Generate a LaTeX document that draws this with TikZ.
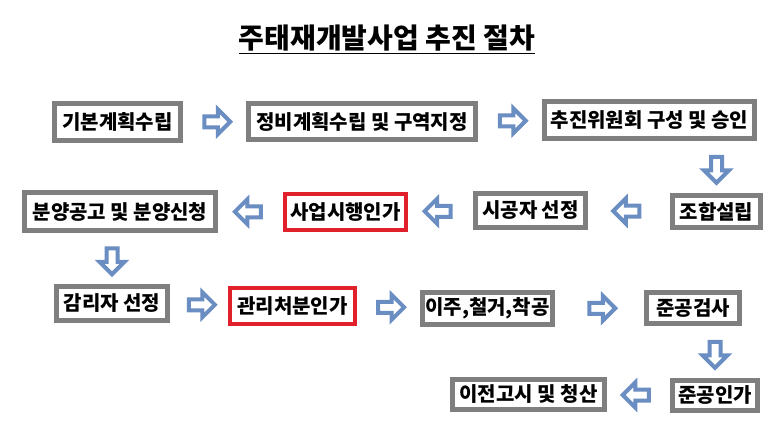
\documentclass[tikz,border=0pt]{standalone}
\usepackage{fontspec}
\newfontfamily\krfont{Noto Sans CJK KR}
\usetikzlibrary{shapes.arrows}
\definecolor{boxgray}{HTML}{7F7F7F}
\definecolor{boxred}{HTML}{E0202A}
\definecolor{arrowblue}{HTML}{6A8DC2}
\tikzset{
  every picture/.style={line join=miter},
  stepbox/.style={draw=boxgray, line width=5pt, fill=white, inner sep=0pt, font=\krfont\bfseries\fontsize{20}{22}\selectfont},
  keybox/.style={stepbox, draw=boxred, line width=3.5pt},
  flow/.style={single arrow, draw=arrowblue, fill=white, line width=4pt, minimum height=26pt, minimum width=21pt, inner sep=3.5pt, single arrow head extend=7pt},
  flowleft/.style={flow, shape border rotate=180},
  flowdown/.style={flow, shape border rotate=270},
}

\begin{document}
\begin{tikzpicture}[x=1pt,y=-1pt]
\fill[white] (0,0) rectangle (781,439);
\useasboundingbox (0,0) rectangle (781,439);
% title
\node[font=\krfont\bfseries\fontsize{28}{30}\selectfont, inner sep=0pt] (title) at (387,38) {주태재개발사업 추진 절차};
\draw[line width=1.6pt] ([yshift=-2pt]title.south west) -- ([yshift=-2pt]title.south east);
% row 1
\node[stepbox, minimum width=126pt, minimum height=37pt] (b1) at (117.5,122) {기본계획수립};
\node[stepbox, minimum width=227pt, minimum height=36pt] (b2) at (362,121.5) {정비계획수립 및 구역지정};
\node[stepbox, minimum width=210pt, minimum height=37pt] (b3) at (649.5,120) {추진위원회 구성 및 승인};
% row 2
\node[stepbox, minimum width=88pt, minimum height=32pt] (b4) at (716.5,211.5) {조합설립};
\node[stepbox, minimum width=110pt, minimum height=34pt] (b5) at (530.5,210.5) {시공자 선정};
\node[keybox, minimum width=121pt, minimum height=36pt] (b6) at (345.5,212) {사업시행인가};
\node[stepbox, minimum width=191pt, minimum height=38pt] (b7) at (120,211.5) {분양공고 및 분양신청};
% row 3
\node[stepbox, minimum width=111pt, minimum height=34pt] (b8) at (112,303.5) {감리자 선정};
\node[keybox, minimum width=125pt, minimum height=36pt] (b9) at (292.5,306) {관리처분인가};
\node[stepbox, minimum width=130pt, minimum height=32pt] (b10) at (487.5,308.5) {이주,철거,착공};
\node[stepbox, minimum width=93pt, minimum height=31pt] (b11) at (693,308) {준공검사};
% row 4
\node[stepbox, minimum width=85pt, minimum height=30pt] (b12) at (715,395.5) {준공인가};
\node[stepbox, minimum width=152pt, minimum height=30pt] (b13) at (528.5,394.5) {이전고시 및 청산};
% arrows
\path (b1.east) -- node[flow]{} (b2.west);
\path (b2.east) -- node[flow]{} (b3.west);
\path (b3.south -| b4.north) -- node[flowdown]{} (b4.north);
\path (b4.west) -- node[flowleft]{} (b5.east);
\path (b5.west) -- node[flowleft]{} (b6.east);
\path (b6.west) -- node[flowleft]{} (b7.east);
\path (b7.south -| b8.north) -- node[flowdown]{} (b8.north);
\path (b8.east) -- node[flow]{} (b9.west);
\path (b9.east) -- node[flow]{} (b10.west);
\path (b10.east) -- node[flow]{} (b11.west);
\path (b11.south -| b12.north) -- node[flowdown]{} (b12.north);
\path (b12.west) -- node[flowleft]{} (b13.east);
\end{tikzpicture}
\end{document}
